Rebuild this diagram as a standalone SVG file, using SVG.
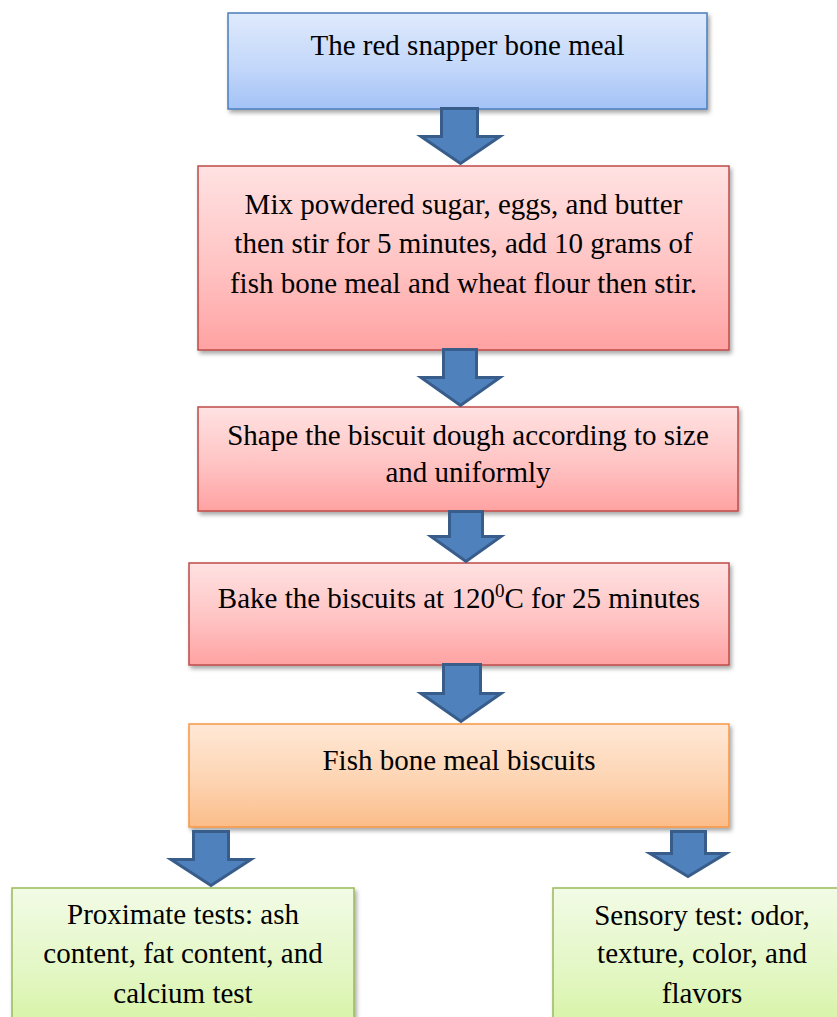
<svg xmlns="http://www.w3.org/2000/svg" width="837" height="1017" viewBox="0 0 837 1017">
<defs>
<linearGradient id="gBlue" x1="0" y1="0" x2="0" y2="1"><stop offset="0" stop-color="#dfeafc"/><stop offset="0.55" stop-color="#c4d8fa"/><stop offset="1" stop-color="#a3c2f6"/></linearGradient>
<linearGradient id="gRed" x1="0" y1="0" x2="0" y2="1"><stop offset="0" stop-color="#ffe2e2"/><stop offset="0.55" stop-color="#ffc3c3"/><stop offset="1" stop-color="#ffa2a2"/></linearGradient>
<linearGradient id="gOrange" x1="0" y1="0" x2="0" y2="1"><stop offset="0" stop-color="#ffe8d6"/><stop offset="0.55" stop-color="#fdd4b2"/><stop offset="1" stop-color="#fbbd89"/></linearGradient>
<linearGradient id="gGreen" x1="0" y1="0" x2="0" y2="1"><stop offset="0" stop-color="#f2fbe6"/><stop offset="0.6" stop-color="#e3f7c4"/><stop offset="1" stop-color="#d6f3a4"/></linearGradient>
<filter id="sh" x="-5%" y="-10%" width="115%" height="130%"><feDropShadow dx="2" dy="3" stdDeviation="2" flood-color="#000" flood-opacity="0.35"/></filter>
<style>
.t{font-family:"Liberation Serif","Times New Roman",serif;font-size:29px;fill:#000;text-anchor:middle}
.blue{fill:url(#gBlue);stroke:#4a7ebb;stroke-width:1.5}
.red{fill:url(#gRed);stroke:#be4b48;stroke-width:1.5}
.orange{fill:url(#gOrange);stroke:#f79646;stroke-width:1.5}
.green{fill:url(#gGreen);stroke:#9bbb59;stroke-width:1.5}
.arr{fill:#4f81bd;stroke:#385d8a;stroke-width:3;stroke-linejoin:miter}
</style>
</defs>
<rect width="837" height="1017" fill="#ffffff"/>
<g id="node-bone-meal">
<rect class="blue" x="228" y="13" width="479" height="96" filter="url(#sh)"/>
<text class="t" x="467.5" y="55">The red snapper bone meal</text>
</g>
<g id="node-mix">
<rect class="red" x="198" y="166" width="531" height="184" filter="url(#sh)"/>
<text class="t" x="463.5" y="214">Mix powdered sugar, eggs, and butter</text>
<text class="t" x="463.5" y="253">then stir for 5 minutes, add 10 grams of</text>
<text class="t" x="463.5" y="293">fish bone meal and wheat flour then stir.</text>
</g>
<g id="node-shape">
<rect class="red" x="198" y="407" width="540" height="104" filter="url(#sh)"/>
<text class="t" x="468" y="445">Shape the biscuit dough according to size</text>
<text class="t" x="468" y="482">and uniformly</text>
</g>
<g id="node-bake">
<rect class="red" x="189" y="563" width="540" height="102" filter="url(#sh)"/>
<text class="t" x="459" y="608">Bake the biscuits at 120<tspan font-size="19" dy="-11">0</tspan><tspan dy="11">C for 25 minutes</tspan></text>
</g>
<g id="node-biscuits">
<rect class="orange" x="189" y="724" width="540" height="103" filter="url(#sh)"/>
<text class="t" x="459" y="770">Fish bone meal biscuits</text>
</g>
<g id="node-proximate">
<rect class="green" x="12" y="888" width="342" height="140" filter="url(#sh)"/>
<text class="t" x="183" y="924">Proximate tests: ash</text>
<text class="t" x="183" y="963">content, fat content, and</text>
<text class="t" x="183" y="1003">calcium test</text>
</g>
<g id="node-sensory">
<rect class="green" x="553" y="888" width="298" height="140" filter="url(#sh)"/>
<text class="t" x="702" y="925">Sensory test: odor,</text>
<text class="t" x="702" y="963">texture, color, and</text>
<text class="t" x="702" y="1003">flavors</text>
</g>
<g id="connectors">
<polygon class="arr" points="441.5,108.5 477.5,108.5 477.5,136.5 500,136.5 460.5,163.5 421,136.5 441.5,136.5"/>
<polygon class="arr" points="443.5,349.5 476.5,349.5 476.5,377.5 500,377.5 460.5,405.5 421,377.5 443.5,377.5"/>
<polygon class="arr" points="449.5,511.5 482.5,511.5 482.5,536.5 501,536.5 466,561.5 431,536.5 449.5,536.5"/>
<polygon class="arr" points="443.5,664.5 480.5,664.5 480.5,693.5 501,693.5 461,721.5 421,693.5 443.5,693.5"/>
<polygon class="arr" points="193.5,831.5 228.5,831.5 228.5,859.5 251,859.5 211,885.5 171,859.5 193.5,859.5"/>
<polygon class="arr" points="671.5,831.5 705.5,831.5 705.5,853.5 726,853.5 688,876.5 650,853.5 671.5,853.5"/>
</g>
</svg>
